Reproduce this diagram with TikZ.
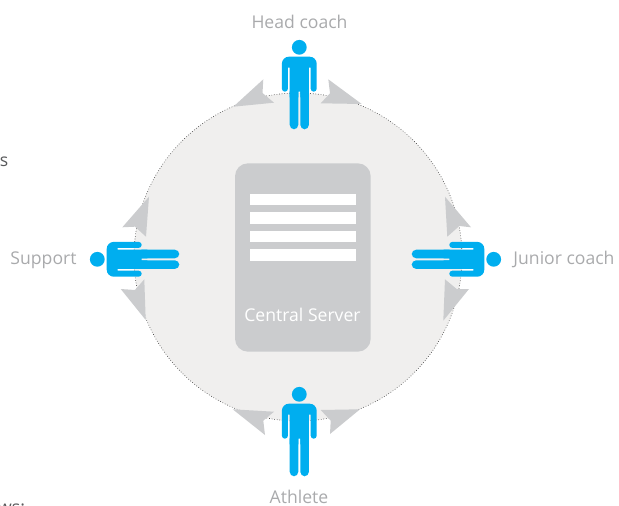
\documentclass[tikz,border=0pt]{standalone}
\usepackage{fontspec}
\setmainfont{Open Sans}
\definecolor{disc}{HTML}{F0EFEE}
\definecolor{wedge}{HTML}{CBCCCE}
\definecolor{figure}{HTML}{00AEEF}
\definecolor{lbl}{HTML}{A9AAAC}
\definecolor{stray}{HTML}{58595B}
\tikzset{
  x=1pt,y=-1pt,
  discshape/.style={fill=disc,draw=black!75,line width=0.6pt,dash pattern=on 0.7pt off 1.9pt},
  wedgeshape/.style={fill=wedge,draw=none},
  serverbox/.style={fill=wedge,draw=none,rounded corners=13pt},
  serverbar/.style={fill=white,draw=none},
  lab/.style={text=lbl,font=\fontsize{17.6}{20}\selectfont,inner sep=0pt},
  straytext/.style={text=stray,font=\fontsize{17.6}{20}\selectfont,inner sep=0pt},
  person/.pic={
    \fill[figure] (0,0) circle[radius=7.4];
    \fill[figure,rounded corners=4.5pt]
      (-1,44.4) -- (-1,82) -- (-9.6,82) -- (-9.6,40) -- (-1,40) -- cycle;
    \fill[figure,rounded corners=4.5pt]
      (1,44.4) -- (1,82) -- (9.6,82) -- (9.6,40) -- (1,40) -- cycle;
    \fill[figure]
      (-9.6,50) -- (-9.6,20.4) -- (-11.4,20.4)
      [rounded corners=3pt] -- (-11.4,44.4) -- (-17.4,44.4)
      [rounded corners=7pt] -- (-17.4,9.4) -- (17.4,9.4)
      [rounded corners=3pt] -- (17.4,44.4) -- (11.4,44.4)
      [sharp corners] -- (11.4,20.4) -- (9.6,20.4) -- (9.6,50) -- (1,50) -- (1,44.4) -- (-1,44.4) -- (-1,50) -- cycle;
  }
}
\begin{document}
\begin{tikzpicture}
\useasboundingbox (0,0) rectangle (619,506);
\clip (0,0) rectangle (619,506);
\path[discshape] (298,257) circle[radius=164];
% wedges
\fill[wedgeshape] (233.3,106.7) -- (263.3,79.3) -- (262.5,93) -- (274,102.7) -- cycle;
\fill[wedgeshape] (361.7,104) -- (328.3,79.3) -- (330,93.3) -- (320.7,103.3) -- cycle;
\fill[wedgeshape] (149,196.7) -- (122.3,227.3) -- (135,226.7) -- (146,236.7) -- cycle;
\fill[wedgeshape] (145.7,320) -- (120.7,289) -- (135,290) -- (144.3,279.3) -- cycle;
\fill[wedgeshape] (445,196.7) -- (471,227.3) -- (459.3,226) -- (447.3,236.7) -- cycle;
\fill[wedgeshape] (443.3,320.7) -- (469,289) -- (456.7,289) -- (445,279.3) -- cycle;
\fill[wedgeshape] (232.7,409.3) -- (265,435) -- (263.3,420.7) -- (274,411.7) -- cycle;
\fill[wedgeshape] (360,409.3) -- (330,434) -- (330.7,420.7) -- (320.7,410) -- cycle;
% server
\path[serverbox] (235,163.3) rectangle (370.7,351.7);
\fill[serverbar] (249.7,193.7) rectangle (355.7,205.3);
\fill[serverbar] (249.7,212.3) rectangle (355.7,223.7);
\fill[serverbar] (249.7,231) rectangle (355.7,242.3);
\fill[serverbar] (249.7,249.3) rectangle (355.7,261);
\node[lab,text=white] (server) at (302.5,315) {Central Server};
% people
\pic at (299.3,47.3) {person};
\pic at (299.3,394.3) {person};
\pic[rotate=90] at (97.3,259.3) {person};
\pic[rotate=-90] at (493.7,259.3) {person};
% labels
\node[lab] (head) at (299.5,22) {Head coach};
\node[lab] (support) at (43.5,260) {Support};
\node[lab] (junior) at (564,259) {Junior coach};
\node[lab,anchor=base] (athlete) at (299,503.5) {Athlete};
\node[straytext] (s1) at (4,162) {s};
\node[straytext,anchor=base west] (s2) at (-2,513) {ws:};
\end{tikzpicture}
\end{document}
